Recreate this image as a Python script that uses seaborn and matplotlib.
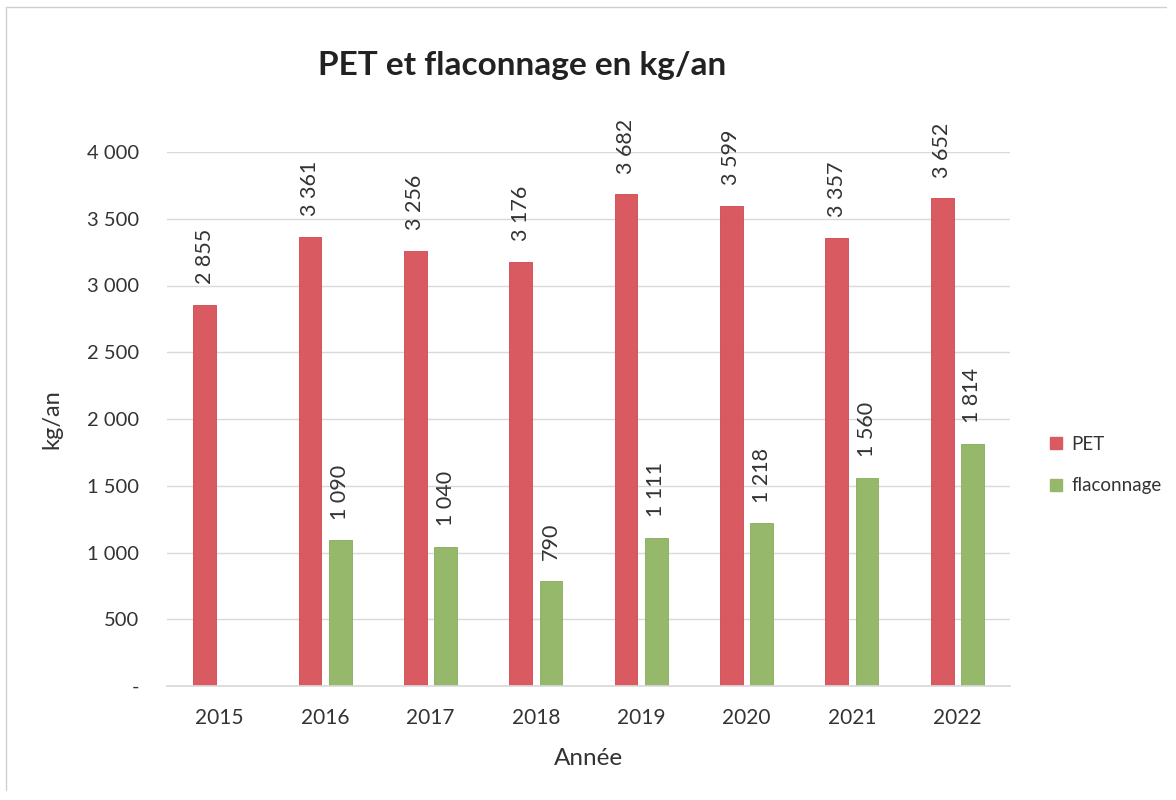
import matplotlib
matplotlib.use("Agg")
import matplotlib.pyplot as plt
import seaborn as sns
import pandas as pd
from matplotlib.lines import Line2D
from matplotlib.ticker import FuncFormatter

years = ["2015", "2016", "2017", "2018", "2019", "2020", "2021", "2022"]
pet = [2855, 3361, 3256, 3176, 3682, 3599, 3357, 3652]
flaconnage = [None, 1090, 1040, 790, 1111, 1218, 1560, 1814]
series_names = ["PET", "flaconnage"]
colors = ["#da5a61", "#95b86b"]

rows = []
for y, p, f in zip(years, pet, flaconnage):
    rows.append({"Année": y, "serie": "PET", "val": p})
    rows.append({"Année": y, "serie": "flaconnage", "val": f})
df = pd.DataFrame(rows)

sns.set_theme(style="white")
plt.rcParams["font.family"] = ["Lato", "DejaVu Sans"]

fig = plt.figure(figsize=(11.76, 8), dpi=100)
ax = fig.add_axes([167/1176, 1-686/800, (1010-167)/1176, (686-152)/800])

sns.barplot(data=df, x="Année", y="val", hue="serie", hue_order=series_names,
            palette=colors, saturation=1, width=0.576, gap=0.25, ax=ax, legend=False,
            linewidth=0.6)

for cont, ec in zip(ax.containers, ["#d04650", "#86aa5c"]):
    for b in cont:
        b.set_edgecolor(ec)

ax.set_ylim(0, 4000)
ax.set_yticks(range(0, 4001, 500))
ax.yaxis.set_major_formatter(FuncFormatter(
    lambda v, p: "-" if v == 0 else f"{int(v):,}".replace(",", " ")))
ax.grid(axis="y", color="#d9d9d9", linewidth=1)
ax.set_axisbelow(True)
for s in ["top", "right", "left"]:
    ax.spines[s].set_visible(False)
ax.spines["bottom"].set_color("#d9d9d9")
ax.tick_params(axis="x", length=0, labelsize=15, colors="#333333", pad=16)
ax.tick_params(axis="y", length=0, labelsize=14.5, colors="#333333", pad=20)

for cont in ax.containers:
    labels = []
    for b in cont:
        h = b.get_height()
        labels.append("" if (h != h or h == 0) else f"{int(round(h)):,}".replace(",", " "))
    ax.bar_label(cont, labels=labels, rotation=90, padding=15, fontsize=15.5, color="#333333")

ax.set_xlabel("Année", fontsize=17.5, color="#333333", labelpad=14)
ax.set_ylabel("kg/an", fontsize=17, color="#333333", labelpad=18)

fig.text(522/1176, 1-65/800, "PET et flaconnage en kg/an", fontsize=24, fontweight="bold",
         ha="center", va="center", color="#222222")

handles = [Line2D([0], [0], marker="s", linestyle="", markersize=8,
                  markerfacecolor=c, markeredgecolor=c) for c in colors]
fig.legend(handles, series_names, loc="center left", bbox_to_anchor=(1030/1176, 1-465/800),
           frameon=False, fontsize=13.5, labelspacing=1.3, handletextpad=0.3, handlelength=1.0,
           labelcolor="#333333")

fig.add_artist(Line2D([6/1176, 6/1176], [1-790/800, 1-7/800], transform=fig.transFigure,
                      color="#d0d0d0", linewidth=1))
fig.add_artist(Line2D([6/1176, 1166/1176], [1-7/800, 1-7/800], transform=fig.transFigure,
                      color="#d0d0d0", linewidth=1))

fig.savefig("out.png", dpi=100, facecolor="white")
